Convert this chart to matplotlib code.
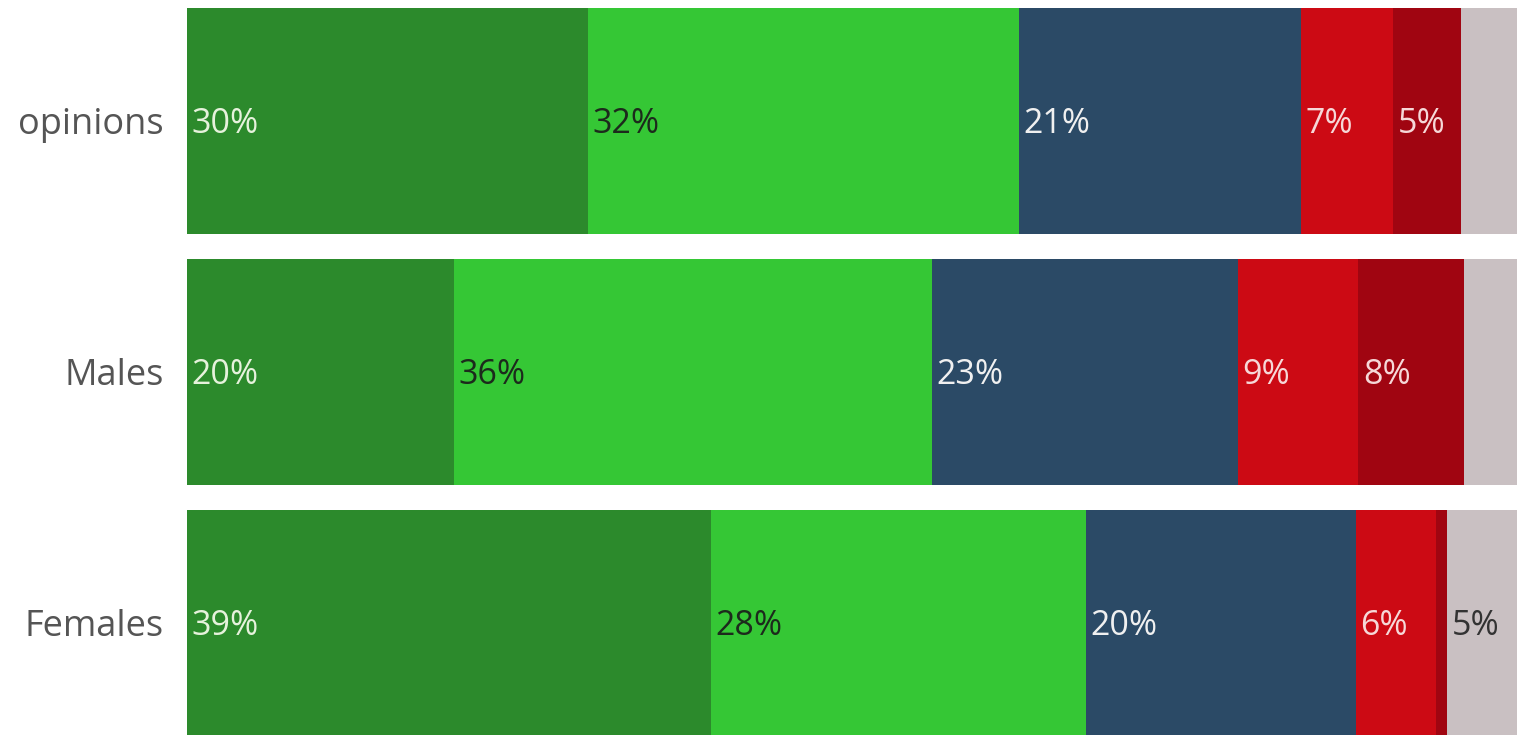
import matplotlib
matplotlib.use("Agg")
import matplotlib.pyplot as plt

categories = ["opinions", "Males", "Females"]
series_names = ["s1", "s2", "s3", "s4", "s5", "s6"]
values = {
    "s1": [29.9, 19.9, 39.1],
    "s2": [32.2, 35.7, 28.0],
    "s3": [21.0, 22.8, 20.1],
    "s4": [6.9, 9.0, 6.0],
    "s5": [5.1, 7.9, 0.8],
    "s6": [5.0, 4.7, 5.4],
}
labels = {
    "s1": ["30%", "20%", "39%"],
    "s2": ["32%", "36%", "28%"],
    "s3": ["21%", "23%", "20%"],
    "s4": ["7%", "9%", "6%"],
    "s5": ["5%", "8%", ""],
    "s6": ["", "", "5%"],
}
colors = {
    "s1": "#2c8a2c",
    "s2": "#35c735",
    "s3": "#2b4a66",
    "s4": "#cc0a14",
    "s5": "#a00511",
    "s6": "#c9c0c2",
}
text_colors = {
    "s1": "#e6f2dc",
    "s2": "#1c2a1c",
    "s3": "#f0f0f0",
    "s4": "#f6d8d8",
    "s5": "#f6d8d8",
    "s6": "#333333",
}

plt.rcParams["font.family"] = ["Open Sans", "DejaVu Sans"]
fig = plt.figure(figsize=(15.17, 7.41), dpi=100)
ax = fig.add_axes([187 / 1517, 0, 1330 / 1517, 1])

ypos = list(range(len(categories)))
left = [0.0] * len(categories)
for s in series_names:
    ax.barh(ypos, values[s], left=left, height=0.9, color=colors[s], linewidth=0)
    for i, y in enumerate(ypos):
        if labels[s][i]:
            ax.text(left[i] + 0.35, y + 0.012, labels[s][i], ha="left", va="center",
                    fontsize=24.5, color=text_colors[s])
    left = [l + v for l, v in zip(left, values[s])]

ax.set_xlim(0, 99.25)
ax.set_ylim(2.472, -0.482)
ax.set_yticks(ypos)
ax.set_yticklabels(categories, fontsize=26, color="#555555")
ax.tick_params(axis="y", length=0, pad=17)
ax.set_xticks([])
for sp in ax.spines.values():
    sp.set_visible(False)

fig.savefig("out.png", dpi=100)
